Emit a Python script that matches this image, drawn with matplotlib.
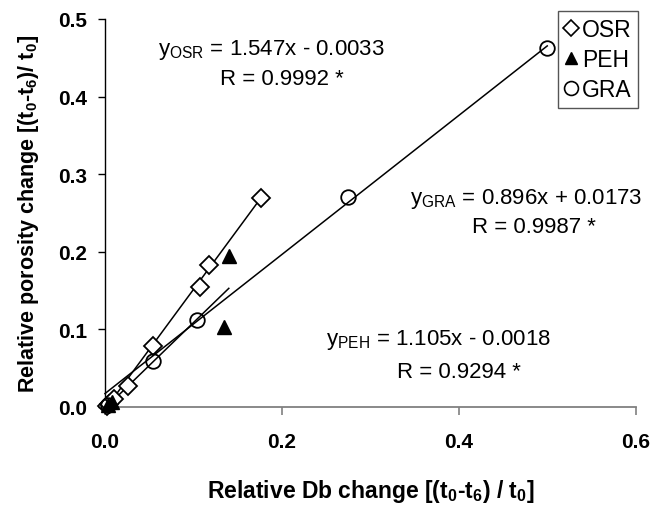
import matplotlib
matplotlib.use("Agg")
import matplotlib.pyplot as plt
import numpy as np
from matplotlib.lines import Line2D

plt.rcParams['font.family'] = ['Liberation Sans', 'DejaVu Sans']
plt.rcParams['mathtext.fontset'] = 'custom'
plt.rcParams['mathtext.rm'] = 'Liberation Sans'
plt.rcParams['mathtext.bf'] = 'Liberation Sans:bold'

# Relative Db change (x) and relative porosity change (y) per soil
osr_x = [0.002, 0.005, 0.010, 0.026, 0.054, 0.107, 0.118, 0.176]
osr_y = [0.001, 0.004, 0.010, 0.027, 0.079, 0.155, 0.183, 0.269]

peh_x = [0.003, 0.008, 0.134, 0.140]
peh_y = [0.002, 0.006, 0.103, 0.195]

gra_x = [0.003, 0.054, 0.104, 0.275, 0.500]
gra_y = [0.003, 0.059, 0.112, 0.270, 0.463]

# Linear fits: slope, intercept, R
fit_osr = (1.547, -0.0033, 0.9992)
fit_peh = (1.105, -0.0018, 0.9294)
fit_gra = (0.896, 0.0173, 0.9987)

x_ticks = [0.0, 0.2, 0.4, 0.6]
y_ticks = [0.0, 0.1, 0.2, 0.3, 0.4, 0.5]

fig = plt.figure(figsize=(6.5, 5.06), dpi=100)
ax = fig.add_axes([0.1615, 0.1937, 0.978 - 0.1615, 0.9605 - 0.1937])

def fit_line(xs, fit):
    xx = np.array([0.0, max(xs)])
    return xx, fit[0] * xx + fit[1]

for xs, fit in ((osr_x, fit_osr), (peh_x, fit_peh), (gra_x, fit_gra)):
    lx, ly = fit_line(xs, fit)
    ax.plot(lx, ly, color='black', lw=1.1, zorder=2, clip_on=False)

ax.plot(osr_x, osr_y, linestyle='none', marker='D', ms=9.5, mfc='white',
        mec='black', mew=1.3, zorder=3, clip_on=False)
ax.plot(peh_x, peh_y, linestyle='none', marker='^', ms=10, mfc='black',
        mec='black', zorder=4, clip_on=False)
# open circles: the fit line stays visible through them
ax.plot(gra_x, gra_y, linestyle='none', marker='o', ms=10.5, mfc='none',
        mec='black', mew=1.3, zorder=5, clip_on=False)

ax.set_xlim(0, 0.6)
ax.set_ylim(0, 0.5)
ax.set_xticks(x_ticks)
ax.set_yticks(y_ticks)
ax.set_xticklabels([f"{v:.1f}" for v in x_ticks], fontsize=15, fontweight='bold')
ax.set_yticklabels([f"{v:.1f}" for v in y_ticks], fontsize=15, fontweight='bold')

for s in ('top', 'right'):
    ax.spines[s].set_visible(False)
ax.spines['left'].set_color('black')
ax.spines['left'].set_linewidth(1.0)
ax.spines['bottom'].set_color('#808080')
ax.spines['bottom'].set_linewidth(1.3)
ax.tick_params(axis='y', direction='out', length=5, width=1, color='black', pad=8)
ax.tick_params(axis='x', direction='out', length=6, width=1.2, color='#808080', pad=12)

ax.set_xlabel(r"Relative Db change [(t$_\mathbf{0}$-t$_\mathbf{6}$) / t$_\mathbf{0}$]",
              fontsize=16.5, fontweight='bold', labelpad=19)
ax.set_ylabel(r"Relative porosity change [(t$_\mathbf{0}$-t$_\mathbf{6}$)/ t$_\mathbf{0}$]",
              fontsize=15.5, fontweight='bold', labelpad=12)

fs = 16
ax.text(0.060, 0.461, r"y$_\mathrm{OSR}$ = %.3fx - %.4f" % (fit_osr[0], -fit_osr[1]),
        fontsize=fs, va='center', ha='left')
ax.text(0.130, 0.423, "R = %.4f *" % fit_osr[2], fontsize=fs, va='center', ha='left')
ax.text(0.345, 0.269, r"y$_\mathrm{GRA}$ = %.3fx + %.4f" % (fit_gra[0], fit_gra[1]),
        fontsize=fs, va='center', ha='left')
ax.text(0.415, 0.232, "R = %.4f *" % fit_gra[2], fontsize=fs, va='center', ha='left')
ax.text(0.250, 0.088, r"y$_\mathrm{PEH}$ = %.3fx - %.4f" % (fit_peh[0], -fit_peh[1]),
        fontsize=fs, va='center', ha='left')
ax.text(0.330, 0.046, "R = %.4f *" % fit_peh[2], fontsize=fs, va='center', ha='left')

handles = [
    Line2D([], [], linestyle='none', marker='D', ms=8, mfc='white', mec='black', mew=1.2),
    Line2D([], [], linestyle='none', marker='^', ms=9, mfc='black', mec='black'),
    Line2D([], [], linestyle='none', marker='o', ms=10, mfc='white', mec='black', mew=1.2),
]
leg = ax.legend(handles, ['OSR', 'PEH', 'GRA'], loc='upper right',
                bbox_to_anchor=(1.005, 1.02), fontsize=16.5, frameon=True,
                fancybox=False, edgecolor='#555555', framealpha=1,
                handlelength=0.55, handletextpad=0.2, borderpad=0.3,
                labelspacing=0.3, borderaxespad=0)
leg.get_frame().set_linewidth(1.0)

fig.savefig("out.png", dpi=100)
